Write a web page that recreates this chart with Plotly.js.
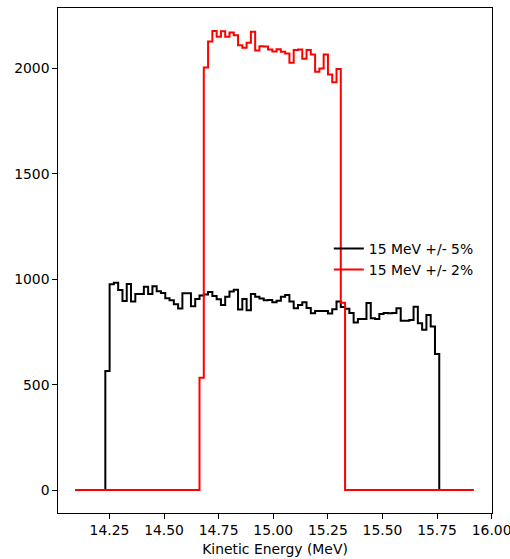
<!DOCTYPE html>
<html>
<head>
<meta charset="utf-8">
<script src="https://cdn.plot.ly/plotly-3.0.1.min.js"></script>
<style>html,body{margin:0;padding:0;background:#fff;}#chart{width:510px;height:559px;}</style>
</head>
<body>
<div id="chart"></div>
<script>
// Histogram bins (MeV)
const BIN_START = 14.094;
const BIN_WIDTH = 0.0196;

const seriesNames = ["15 MeV +/- 5%", "15 MeV +/- 2%"];

// Counts per bin, 15 MeV +/- 5%
const counts5 = [
  0,0,0,0,0,0,0,
  565,976,983,949,897,978,894,930,930,965,930,967,943,935,910,900,882,861,
  934,934,872,906,923,928,940,920,905,878,917,942,950,856,906,853,930,917,
  909,900,902,891,898,917,925,894,862,878,891,864,839,850,850,850,838,858,
  895,868,860,840,795,812,811,887,815,812,835,840,839,840,862,803,803,807,
  870,791,760,831,776,645,
  0,0,0,0,0,0,0,0
];

// Counts per bin, 15 MeV +/- 2%
const counts2 = [
  0,0,0,0,0,0,0,0,0,0,0,0,0,0,0,0,0,0,0,0,0,0,0,0,0,0,0,0,0,
  533,2005,2128,2178,2150,2177,2150,2171,2158,2110,2098,2122,2174,2085,2106,
  2104,2090,2080,2091,2079,2071,2027,2088,2090,2046,2088,2066,1984,2000,2066,
  1972,1935,1997,888,
  0,0,0,0,0,0,0,0,0,0,0,0,0,0,0,0,0,0,0,0,0,0,0,0,0,0,0,0,0,0
];

const xTicks = [14.25, 14.50, 14.75, 15.00, 15.25, 15.50, 15.75, 16.00];
const yTicks = [0, 500, 1000, 1500, 2000];

function stepXY(counts) {
  const x = [], y = [];
  for (let i = 0; i < counts.length; i++) {
    x.push(BIN_START + i * BIN_WIDTH);
    y.push(counts[i]);
  }
  x.push(BIN_START + counts.length * BIN_WIDTH);
  y.push(counts[counts.length - 1]);
  return {x, y};
}

const s5 = stepXY(counts5), s2 = stepXY(counts2);
const FONT = "DejaVu Sans, sans-serif";
const FS = 13.9;

const traces = [
  {x: s5.x, y: s5.y, type: "scatter", mode: "lines", name: seriesNames[0],
   line: {shape: "hv", color: "#000000", width: 2}},
  {x: s2.x, y: s2.y, type: "scatter", mode: "lines", name: seriesNames[1],
   line: {shape: "hv", color: "#ff0000", width: 2}}
];

const layout = {
  width: 510, height: 559,
  margin: {l: 58, r: 18, t: 8, b: 46, pad: 0},
  paper_bgcolor: "#ffffff", plot_bgcolor: "#ffffff",
  font: {family: FONT, size: FS, color: "#000000"},
  showlegend: true,
  legend: {x: 0.624, y: 0.502, xanchor: "left", yanchor: "middle",
           bgcolor: "rgba(255,255,255,0)", borderwidth: 0,
           font: {family: FONT, size: FS, color: "#000000"}},
  xaxis: {range: [14.0145, 16.0015], tickvals: xTicks, tickformat: ".2f",
          ticklabeloverflow: "allow",
          showgrid: false, zeroline: false, showline: true, mirror: true,
          linecolor: "#000000", linewidth: 1, ticks: "outside", ticklen: 4.7,
          tickwidth: 1, tickcolor: "#000000", ticklabelstandoff: 0,
          title: {text: "Kinetic Energy (MeV)", font: {family: FONT, size: FS}, standoff: 6}},
  yaxis: {range: [-108.9, 2286.9], tickvals: yTicks,
          showgrid: false, zeroline: false, showline: true, mirror: true,
          linecolor: "#000000", linewidth: 1, ticks: "outside", ticklen: 4.7,
          tickwidth: 1, tickcolor: "#000000"}
};

Plotly.newPlot("chart", traces, layout, {displayModeBar: false, staticPlot: true});
</script>
</body>
</html>
